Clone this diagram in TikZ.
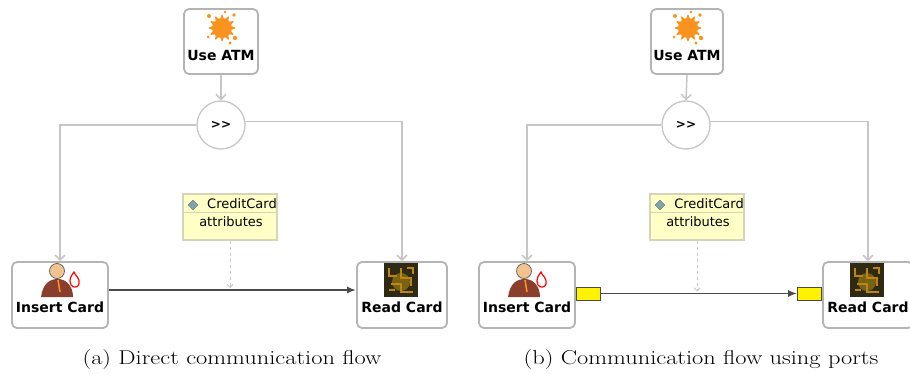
\documentclass[tikz,border=0pt]{standalone}
\usepackage{fontspec}
\newfontfamily\dejavu{DejaVu Sans}
\usetikzlibrary{positioning,shapes.geometric,arrows.meta}
\definecolor{boxgray}{HTML}{B4B4B4}
\definecolor{linegray}{HTML}{C6C6C6}
\definecolor{flowgray}{HTML}{4A4A4A}
\definecolor{classyellow}{HTML}{FFFFC6}
\definecolor{classborder}{HTML}{D4D4B8}
\definecolor{splatorange}{HTML}{F7931E}
\definecolor{workerbrown}{HTML}{8A3E2E}
\definecolor{skin}{HTML}{F2C28F}
\definecolor{boarddark}{HTML}{2E2A14}
\definecolor{boardorange}{HTML}{C08416}
\definecolor{diamondblue}{HTML}{7FA3AE}

\tikzset{
  task/.style={draw=boxgray, line width=1.8pt, rounded corners=5pt, fill=white,
    minimum height=66, inner sep=0},
  tasktext/.style={font=\dejavu\bfseries\fontsize{14}{14}\selectfont, inner sep=0},
  seqnode/.style={circle, draw=linegray, line width=1.3pt, fill=white, minimum size=48,
    inner sep=0, font=\dejavu\bfseries\fontsize{12}{12}\selectfont},
  ctrl/.style={draw=linegray, line width=1.5pt, -{Straight Barb[length=5pt,width=10pt]}},
  flow/.style={draw=flowgray, line width=1.9pt, -{Latex[length=9pt,width=7pt]}},
  classbox/.style={draw=classborder, line width=1.3pt, fill=classyellow,
    minimum width=94, minimum height=46, inner sep=0},
  classtext/.style={font=\dejavu\fontsize{13}{13}\selectfont, inner sep=0},
  classlink/.style={draw=linegray, line width=1pt, dashed,
    -{Straight Barb[length=3pt,width=6pt]}},
  attrdiamond/.style={diamond, fill=diamondblue, draw=diamondblue!70!black, line width=0.4pt,
    minimum size=10, inner sep=0},
  port/.style={draw=flowgray, line width=1pt, fill=yellow, minimum width=24,
    minimum height=13, inner sep=0},
  caption/.style={font=\fontsize{20}{20}\selectfont, inner sep=0},
  splat/.pic={
    \node[star, star points=12, star point ratio=1.7, minimum size=29, inner sep=0,
      rounded corners=1.5pt, fill=splatorange] {};
    \fill[splatorange] (-13,-12) circle (2) (12,-13) circle (1.8) (-14,9) circle (1.5)
      (13,10) circle (2.2) (3,-16) circle (1.4) (8,15) circle (1.6);
  },
  worker/.pic={
    \fill[workerbrown] (-19,17) .. controls (-17,3) and (-10,-1) .. (-2,-1)
      .. controls (6,-1) and (13,6) .. (13,17) -- cycle;
    \fill[skin, draw=black!70, line width=0.6pt] (-3,-9) circle (7.5);
    \draw[splatorange, line width=1.6pt] (-2,0) -- (0,12);
    \fill[white, draw=red, line width=1.2pt] (11,5) .. controls (8,-1) and (12,-5) .. (14,-8)
      .. controls (15,-4) and (20,-3) .. (19,4) .. controls (18,8) and (13,8) .. (11,5);
  },
  board/.pic={
    \fill[boarddark] (-17,-17) rectangle (17,17);
    \fill[boardorange!70!yellow, opacity=0.45] (0,2) circle (9);
    \draw[boardorange, line width=1.2pt]
      (-12,-12) -- (-12,-4) -- (-4,-4) (0,-12) -- (0,-2) -- (10,-2) -- (10,6)
      (-10,4) -- (0,4) -- (0,12) -- (12,12) (6,-12) -- (12,-12) -- (12,-6)
      (-12,10) -- (-6,10);
  }
}

\begin{document}
\begin{tikzpicture}[x=1pt, y=-1pt]
\useasboundingbox (0,0) rectangle (910,374);
\clip (0,0) rectangle (910,374);

% Direct flow
\node[task, minimum width=74, minimum height=65] (use1) at (221,41.5) {};
\pic at (222,28) {splat};
\node[tasktext] at (221,55) {Use ATM};
\node[seqnode] (seq1) at (221,125) {>>};
\node[task, minimum width=96] (ins1) at (60,295) {};
\pic at (60,280) {worker};
\node[tasktext] at (60,307) {Insert Card};
\node[task, minimum width=90] (rd1) at (402,295) {};
\pic at (401,280) {board};
\node[tasktext] at (402,307) {Read Card};

\draw[ctrl] (use1.south) -- (seq1.north);
\draw[ctrl] (seq1.west) -| (ins1.north);
\draw[ctrl] (seq1.8) -| (rd1.north);
\draw[flow] ([yshift=5]ins1.east) -- coordinate (m1) ([yshift=5]rd1.west);

\node[classbox] (cc1) at (230,217) {};
\draw[classborder, line width=1pt] ([yshift=-19]cc1.north west) -- ([yshift=-19]cc1.north east);
\node[attrdiamond] at (193,205) {};
\node[classtext] at (242,204) {CreditCard};
\node[classtext] at (231,222) {attributes};
\coordinate (h1) at (cc1.south |- m1);
\draw[classlink] (cc1.south) -- ([yshift=2]h1);

\node[caption] at (232,360) {\scalebox{1.22}[1]{(a) Direct communication flow}};

% Flow through ports
\node[task, minimum width=72, minimum height=65] (use2) at (687,41.5) {};
\pic at (688,28) {splat};
\node[tasktext] at (687,55) {Use ATM};
\node[seqnode] (seq2) at (686,125) {>>};
\node[task, minimum width=96] (ins2) at (527,295) {};
\pic at (527,280) {worker};
\node[tasktext] at (527,307) {Insert Card};
\node[task, minimum width=90] (rd2) at (868,295) {};
\pic at (867,280) {board};
\node[tasktext] at (868,307) {Read Card};

\node[port, anchor=west] (p1) at ([yshift=1.5]ins2.east) {};
\node[port, anchor=east] (p2) at ([yshift=1.5]rd2.west) {};

\draw[ctrl] (use2.south) -- (seq2.north);
\draw[ctrl] (seq2.west) -| (ins2.north);
\draw[ctrl] (seq2.8) -| (rd2.north);
\draw[flow] (p1.east) -- coordinate (m2) (p2.west);

\node[classbox] (cc2) at (697,217) {};
\draw[classborder, line width=1pt] ([yshift=-19]cc2.north west) -- ([yshift=-19]cc2.north east);
\node[attrdiamond] at (660,205) {};
\node[classtext] at (709,204) {CreditCard};
\node[classtext] at (698,222) {attributes};
\coordinate (h2) at (cc2.south |- m2);
\draw[classlink] (cc2.south) -- ([yshift=2]h2);

\node[caption] at (701,360) {\scalebox{1.22}[1]{(b) Communication flow using ports}};
\end{tikzpicture}
\end{document}
